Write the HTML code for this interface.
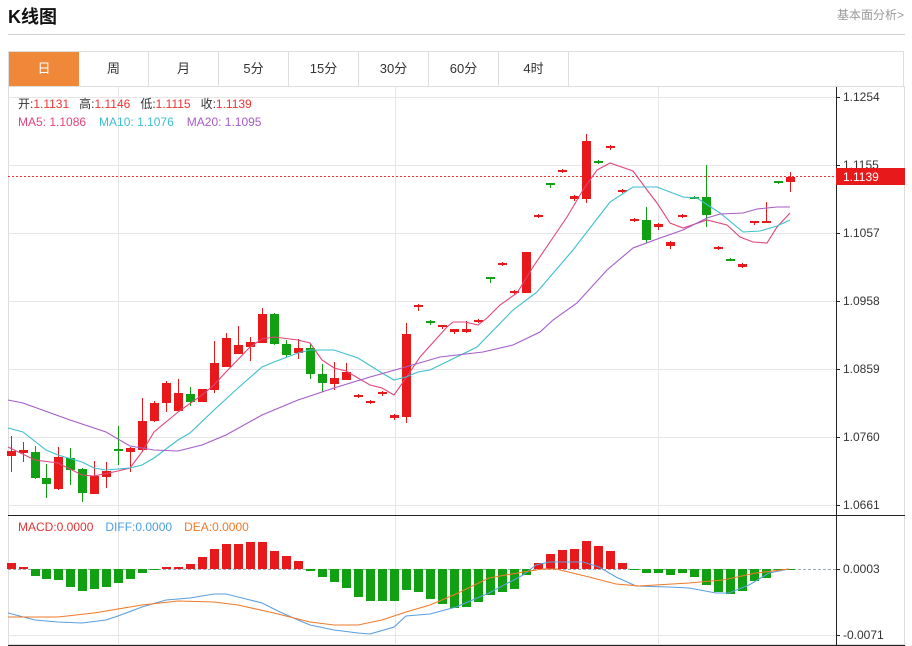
<!DOCTYPE html>
<html><head><meta charset="utf-8"><style>
body{margin:0;width:912px;height:646px;background:#fff;font-family:"Liberation Sans","Noto Sans CJK SC",sans-serif;overflow:hidden;position:relative}
.t{position:absolute;left:8px;top:3px;font-size:18px;font-weight:bold;color:#111}
.r{position:absolute;right:8px;top:6px;font-size:12px;color:#999}
.hl{position:absolute;left:8px;top:34px;width:897px;height:1px;background:#d0d0d0}
.tabs{position:absolute;left:8px;top:51px;width:896px;height:35px;border:1px solid #ddd;border-bottom:none;box-sizing:border-box}
.tab{position:absolute;top:0;width:70px;height:34px;line-height:34px;text-align:center;font-size:13px;color:#333;border-right:1px solid #ddd;box-sizing:border-box}
svg{position:absolute;left:0;top:0}
</style></head><body>
<div class="t">K线图</div><div class="r">基本面分析&gt;</div><div class="hl"></div>
<div class="tabs">
<div class="tab" style="left:0;background:#f0883a;color:#fff;border:none">日</div>
<div class="tab" style="left:70px">周</div><div class="tab" style="left:140px">月</div>
<div class="tab" style="left:210px">5分</div><div class="tab" style="left:280px">15分</div>
<div class="tab" style="left:350px">30分</div><div class="tab" style="left:420px">60分</div>
<div class="tab" style="left:490px">4时</div>
</div>
<svg width="912" height="646" id="s" font-family="Liberation Sans, Noto Sans CJK SC, sans-serif"></svg>
<script>
var S=document.getElementById('s'),h='';
function L(a,b,c,d,col,w,da){h+='<line x1="'+a+'" y1="'+b+'" x2="'+c+'" y2="'+d+'" stroke="'+col+'" stroke-width="'+(w||1)+'"'+(da?' stroke-dasharray="'+da+'"':'')+'/>';}
h+='<rect x="8.5" y="86.5" width="896" height="558" fill="none" stroke="#ddd"/>';
[97,165,233,301,369,437,505].forEach(function(y){L(8,y+.5,836,y+.5,'#e6e6e6');});
[118,395,658].forEach(function(x){L(x+.5,87,x+.5,645,'#e6e6e6');});
L(8,635.5,836,635.5,'#e6e6e6');
L(8,515.5,905,515.5,'#222');L(8,645.5,905,645.5,'#222');L(836.5,87,836.5,646,'#222');
var ax=[['1.1254',97],['1.1155',165],['1.1057',233],['1.0958',301],['1.0859',369],['1.0760',437],['1.0661',505],['0.0003',569],['-0.0071',635]];
ax.forEach(function(a){L(836,a[1]+.5,840,a[1]+.5,'#222');h+='<text x="843" y="'+(a[1]+4)+'" font-size="12" fill="#333">'+a[0]+'</text>';});
L(8,176.5,836,176.5,'#e33',1,'2,2');
h+='<rect x="836" y="168" width="69" height="17" fill="#e8191a"/><text x="843" y="181" font-size="12" fill="#fff">1.1139</text>';
h+='<text x="18" y="108" font-size="12"><tspan fill="#333">开:</tspan><tspan fill="#e33">1.1131</tspan><tspan fill="#333" dx="10">高:</tspan><tspan fill="#e33">1.1146</tspan><tspan fill="#333" dx="10">低:</tspan><tspan fill="#e33">1.1115</tspan><tspan fill="#333" dx="10">收:</tspan><tspan fill="#e33">1.1139</tspan></text>';
h+='<text x="18" y="126" font-size="12"><tspan fill="#e0457b">MA5: 1.1086</tspan><tspan fill="#3cbfcf" dx="13">MA10: 1.1076</tspan><tspan fill="#a55cc8" dx="13">MA20: 1.1095</tspan></text>';
h+='<text x="18" y="531" font-size="12"><tspan fill="#e03535">MACD:0.0000</tspan><tspan fill="#4b9ee0" dx="12">DIFF:0.0000</tspan><tspan fill="#f07a2a" dx="12">DEA:0.0000</tspan></text>';
L(8,569.5,836,569.5,'#9ab',1,'3,2');
var R='#e8191a',G='#11a011';
// x, wickTop, wickBot, bodyTop, bodyBot, color
var C=[[11,436,472,451,456,R],[23,442,462,450,453,R],[35,446,479,452,478,G],[46,464,498,478,484,G],[58,447,490,457,489,R],[70,448,485,458,470,G],[82,468,502,469,493,G],[94,461,494,476,494,R],[106,462,488,471,477,R],[118,426,465,449,451,G],[130,447,472,448,452,R],[142,398,452,421,450,R],[154,401,422,403,421,R],[166,381,412,383,403,R],[178,379,411,393,411,R],[190,387,406,394,402,G],[202,389,402,389,402,R],[214,341,393,363,390,R],[226,333,367,338,367,R],[238,326,354,345,354,R],[250,337,361,342,347,R],[262,308,343,314,343,R],[274,313,345,314,344,G],[286,340,357,344,355,G],[298,339,359,348,353,R],[310,344,379,348,374,G],[322,364,392,374,383,G],[334,362,390,378,384,R],[346,363,380,372,380,R],[358,394,398,395,397,R],[370,400,404,401,403,R],[382,391,396,392,394,R],[394,414,420,415,418,R],[406,323,423,334,417,R],[418,304,311,305,307,R],[430,320,325,321,323,G],[442,325,329,325,327,R],[454,329,334,329,332,R],[466,321,333,329,332,R],[478,319,323,320,322,R],[490,277,283,277,279,G],[502,262,266,263,265,R],[514,290,295,291,293,R],[526,252,293,252,293,R],[538,214,218,215,217,R],[550,183,188,183,185,G],[562,169,173,170,172,R],[574,195,201,196,199,R],[586,134,203,141,199,R],[598,160,164,161,163,G],[610,145,150,146,148,R],[622,189,193,190,192,R],[634,218,222,219,221,R],[646,207,243,220,240,G],[658,223,230,224,227,R],[670,241,249,242,246,R],[682,214,218,215,217,R],[694,196,199,197,198,G],[706,165,227,197,215,G],[718,246,250,247,249,R],[730,258,261,259,260,G],[742,263,268,264,267,R],[754,221,225,221,223,R],[766,202,223,221,223,R],[778,181,184,181,183,G],[790,172,192,177,182,R]];
C.forEach(function(c){L(c[0]+.5,c[1],c[0]+.5,c[2],c[5]);var bh=Math.max(c[4]-c[3],2);h+='<rect x="'+(c[0]-4)+'" y="'+c[3]+'" width="9" height="'+bh+'" fill="'+c[5]+'"/>';});
function P(pts,col){h+='<polyline fill="none" stroke="'+col+'" stroke-width="1.1" points="'+pts.map(function(p){return p.join(',')}).join(' ')+'"/>';}
P([[8,447],[35,460],[58,463],[82,475],[94,476],[118,471],[130,468],[142,452],[154,432],[178,412],[202,395],[214,385],[226,372],[250,347],[262,339],[274,337],[298,340],[310,343],[322,360],[334,368],[346,371],[370,385],[382,388],[394,395],[406,378],[420,357],[447,327],[453,322],[465,322],[478,325],[487,318],[500,305],[517,293],[533,267],[550,242],[567,217],[583,190],[597,170],[610,163],[633,171],[647,190],[657,203],[670,223],[683,228],[707,220],[727,225],[740,237],[753,242],[767,243],[777,227],[790,213]],'#e0457b');
P([[8,428],[23,432],[46,450],[58,455],[82,462],[94,468],[106,470],[130,468],[142,465],[154,458],[178,440],[190,433],[214,410],[238,388],[262,367],[274,362],[298,353],[310,350],[334,350],[358,358],[382,373],[394,380],[406,377],[418,372],[430,370],[477,347],[513,310],[537,292],[573,250],[610,202],[633,187],[657,187],[683,197],[697,198],[720,213],[743,232],[760,231],[777,226],[790,220]],'#3cbfcf');
P([[8,400],[23,403],[70,420],[106,432],[130,446],[154,450],[178,451],[202,445],[226,435],[262,415],[298,400],[334,388],[370,377],[395,370],[440,357],[483,352],[513,345],[540,332],[553,320],[577,303],[607,270],[633,248],[660,238],[683,230],[707,218],[720,214],[743,213],[757,209],[777,207],[790,207]],'#a55cc8');
var M=[[11,563],[23,567],[35,576],[46,579],[58,580],[70,587],[82,591],[94,589],[106,587],[118,583],[130,579],[142,573],[154,570],[166,567],[178,567],[190,564],[202,557],[214,549],[226,544],[238,544],[250,542],[262,542],[274,551],[286,556],[298,561],[310,571],[322,577],[334,582],[346,588],[358,597],[370,601],[382,601],[394,601],[406,590],[418,592],[430,599],[442,604],[454,608],[466,607],[478,602],[490,595],[502,592],[514,589],[526,575],[538,563],[550,554],[562,550],[574,549],[586,541],[598,546],[610,551],[622,563],[634,570],[646,573],[658,573],[670,575],[682,573],[694,577],[706,585],[718,592],[730,594],[742,591],[754,581],[766,578],[778,570],[790,570]];
M.forEach(function(m){var z=569,y0=Math.min(m[1],z),hh=Math.max(Math.abs(m[1]-z),1);h+='<rect x="'+(m[0]-4)+'" y="'+y0+'" width="9" height="'+hh+'" fill="'+(m[1]<z?R:G)+'"/>';});
P([[8,613],[35,620],[58,622],[82,623],[106,620],[118,616],[142,607],[166,600],[190,598],[214,594],[226,594],[250,600],[262,603],[280,612],[298,620],[310,625],[334,630],[358,633],[370,634],[394,627],[406,616],[430,614],[456,607],[489,593],[523,575],[536,565],[549,562],[583,562],[599,567],[616,577],[636,586],[669,587],[689,588],[716,593],[729,593],[749,585],[769,573],[789,569]],'#5a9fe0');
P([[8,617],[58,617],[94,613],[142,605],[178,601],[214,602],[238,605],[274,613],[310,622],[334,625],[358,625],[382,620],[406,612],[430,605],[456,594],[489,578],[523,572],[543,569],[556,569],[589,577],[616,584],[639,586],[689,583],[723,580],[756,573],[789,569]],'#f07a2a');
S.innerHTML=h;
</script>
</body></html>
